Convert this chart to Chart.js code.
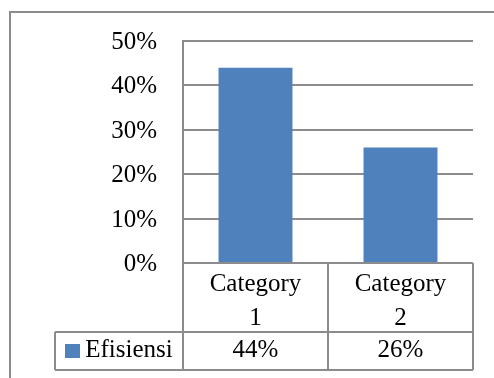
<!DOCTYPE html>
<html>
<head>
<meta charset="utf-8">
<script src="https://cdn.jsdelivr.net/npm/chart.js@4"></script>
<style>
  body { margin: 0; background: #fff; }
  #wrap { position: relative; width: 494px; height: 378px; overflow: hidden; }
  canvas { display: block; }
  #labels { position: absolute; left: 0; top: 0; width: 494px; height: 378px; pointer-events: none; color: #000; }
  #labels div { position: absolute; white-space: nowrap; }
  .key { display: inline-block; width: 15px; height: 14px; margin-right: 5px; vertical-align: -1px; }
</style>
</head>
<body>
<div id="wrap">
  <canvas id="chart" width="494" height="378"></canvas>
  <div id="labels"></div>
</div>
<script>
// chart data
const categories = [['Category', '1'], ['Category', '2']];
const seriesName = 'Efisiensi';
const efisiensi = [44, 26];
const yTicks = [0, 10, 20, 30, 40, 50];

const lineColor = '#8c8c8c';
const barColor = '#4F81BD';
const labelFont = '25px "Liberation Serif"';

// labels are html text placed from the scales
function addLabel(text, css, lineHeight) {
  const d = document.createElement('div');
  d.textContent = text;
  d.style.font = labelFont;
  d.style.lineHeight = lineHeight + 'px';
  Object.assign(d.style, css);
  document.getElementById('labels').appendChild(d);
  return d;
}

// outer frame, data table lines and all labels
const tablePlugin = {
  id: 'dataTable',
  beforeDraw(chart) {
    const ctx = chart.ctx;
    ctx.save();
    ctx.strokeStyle = lineColor;
    ctx.lineWidth = 2;
    ctx.beginPath();
    ctx.moveTo(10, 378);
    ctx.lineTo(10, 12);
    ctx.lineTo(494, 12);
    ctx.stroke();
    ctx.restore();
  },
  afterDraw(chart) {
    const ctx = chart.ctx;
    const x = chart.scales.x;
    const y = chart.scales.y;
    const area = chart.chartArea;
    const step = x.getPixelForValue(1) - x.getPixelForValue(0);
    const top = area.bottom;
    const mid = top + 69;
    const bottom = mid + 38;
    const legendLeft = 55;

    ctx.save();
    ctx.strokeStyle = lineColor;
    ctx.lineWidth = 2;
    ctx.beginPath();
    ctx.moveTo(area.left, top); ctx.lineTo(area.right, top);
    ctx.moveTo(legendLeft, mid); ctx.lineTo(area.right, mid);
    ctx.moveTo(legendLeft, bottom); ctx.lineTo(area.right, bottom);
    ctx.moveTo(legendLeft, mid); ctx.lineTo(legendLeft, bottom);
    ctx.moveTo(area.left, top); ctx.lineTo(area.left, bottom);
    categories.forEach((c, i) => {
      const r = x.getPixelForValue(i) + step / 2;
      ctx.moveTo(r, top); ctx.lineTo(r, bottom);
    });
    ctx.stroke();
    ctx.restore();

    document.getElementById('labels').innerHTML = '';

    // y tick labels
    y.ticks.forEach(t => {
      addLabel(t.value + '%', {
        right: (494 - (area.left - 26)) + 'px',
        top: (y.getPixelForValue(t.value) - 14) + 'px'
      }, 28);
    });

    // category row and value row
    categories.forEach((c, i) => {
      const left = x.getPixelForValue(i) - step / 2;
      const cell = { left: left + 'px', width: step + 'px', textAlign: 'center' };
      const cat = addLabel('', Object.assign({ top: (top + 3) + 'px' }, cell), 34);
      cat.innerHTML = c.join('<br>');
      addLabel(efisiensi[i] + '%', Object.assign({ top: (mid + 3) + 'px' }, cell), 28);
    });

    // legend key + series name
    const key = addLabel('', {
      left: legendLeft + 'px', width: (area.left - legendLeft) + 'px',
      top: (mid + 3) + 'px', textAlign: 'center'
    }, 28);
    const sw = document.createElement('span');
    sw.className = 'key';
    sw.style.background = barColor;
    key.appendChild(sw);
    key.appendChild(document.createTextNode(seriesName));
  }
};

new Chart(document.getElementById('chart'), {
  type: 'bar',
  data: {
    labels: categories,
    datasets: [{
      label: seriesName,
      data: efisiensi,
      backgroundColor: barColor,
      barPercentage: 1,
      categoryPercentage: 0.51
    }]
  },
  options: {
    responsive: false,
    animation: false,
    layout: { padding: { left: 0, top: 41, right: 21, bottom: 115 } },
    plugins: { legend: { display: false }, tooltip: { enabled: false } },
    scales: {
      x: {
        ticks: { display: false },
        grid: { display: false },
        border: { display: false },
        afterFit(scale) { scale.height = 0; }
      },
      y: {
        min: yTicks[0],
        max: yTicks[yTicks.length - 1],
        afterBuildTicks(scale) { scale.ticks = yTicks.map(v => ({ value: v })); },
        ticks: { display: false },
        grid: { color: lineColor, lineWidth: 2, drawTicks: false },
        border: { display: true, color: lineColor, width: 2 },
        afterFit(scale) { scale.width = 183; }
      }
    }
  },
  plugins: [tablePlugin]
});
</script>
</body>
</html>
